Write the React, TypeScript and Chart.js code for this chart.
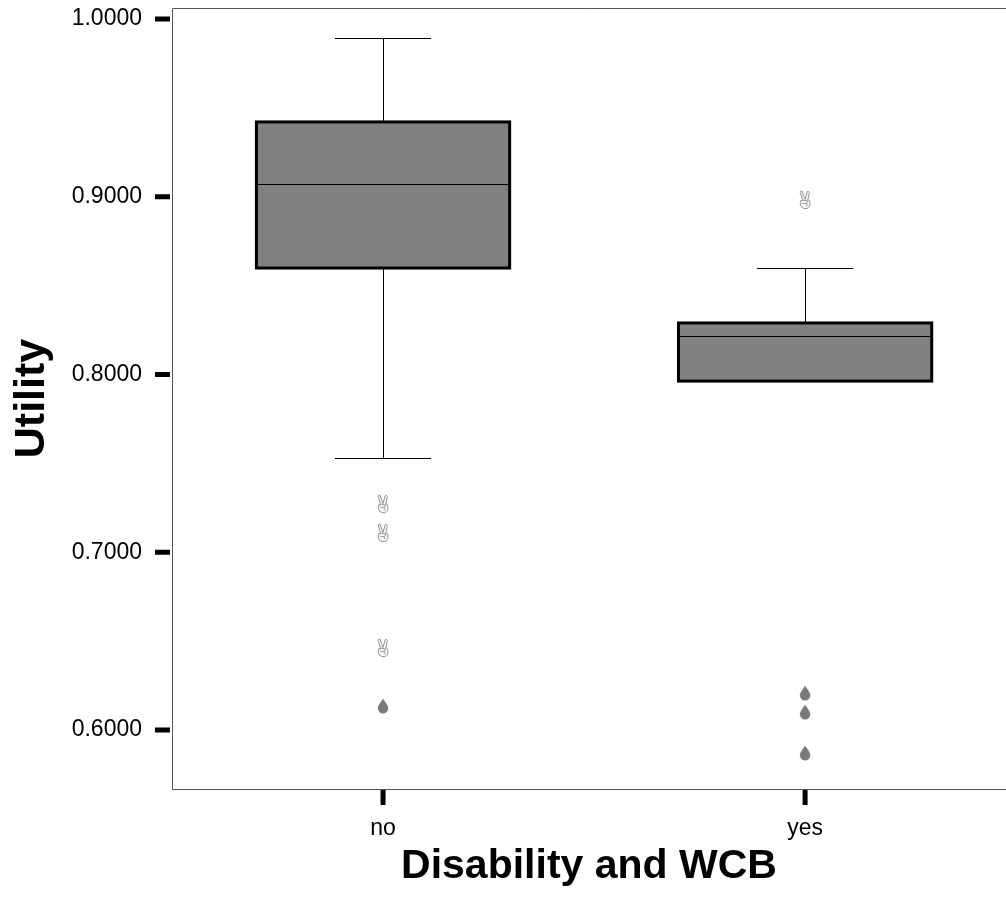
import { useEffect, useRef } from 'react';
import { Chart, registerables } from 'chart.js';

Chart.register(...registerables);

// Groups along the x axis
const categories = ['no', 'yes'];

// Y axis tick values
const yTickValues = [0.6, 0.7, 0.8, 0.9, 1.0];

// Box-plot statistics per group
const whiskerTop = [0.9893, 0.8599];
const upperQuartile = [0.9421, 0.829];
const medians = [0.9072, 0.8217];
const lowerQuartile = [0.8599, 0.7963];
const whiskerBottom = [0.753, 0.7963];

// Outlying cases per group
const handOutliersNo = [0.7271, 0.7108, 0.6461];
const handOutliersYes = [0.8982];
const dropOutliersNo = [0.6135];
const dropOutliersYes = [0.6208, 0.6101, 0.5871];

const FONT = "'Liberation Sans', Arial, Helvetica, sans-serif";
const BOX_HALF = 0.3;
const CAP_HALF = 0.114;

function makeDropMarker(): HTMLCanvasElement {
  const c = document.createElement('canvas');
  c.width = 12;
  c.height = 16;
  const ctx = c.getContext('2d')!;
  ctx.fillStyle = '#7a7a7a';
  ctx.beginPath();
  ctx.moveTo(6, 0.5);
  ctx.bezierCurveTo(7.5, 3.5, 11.2, 7, 11.2, 10.2);
  ctx.arc(6, 10.2, 5.2, 0, Math.PI, false);
  ctx.bezierCurveTo(0.8, 7, 4.5, 3.5, 6, 0.5);
  ctx.closePath();
  ctx.fill();
  return c;
}

// small "victory hand" outline marker
function makeHandMarker(): HTMLCanvasElement {
  const c = document.createElement('canvas');
  c.width = 14;
  c.height = 20;
  const ctx = c.getContext('2d')!;
  ctx.strokeStyle = '#8c8c8c';
  ctx.lineWidth = 1;
  ctx.lineJoin = 'round';
  ctx.lineCap = 'round';
  // index finger
  ctx.beginPath();
  ctx.moveTo(4.5, 10);
  ctx.lineTo(2.2, 2.2);
  ctx.quadraticCurveTo(2.6, 0.6, 4, 1.2);
  ctx.lineTo(6.8, 9);
  ctx.stroke();
  // middle finger
  ctx.beginPath();
  ctx.moveTo(7.2, 9);
  ctx.lineTo(9.2, 1.6);
  ctx.quadraticCurveTo(10.8, 0.8, 11.3, 2.4);
  ctx.lineTo(9.8, 10);
  ctx.stroke();
  // fist
  ctx.beginPath();
  ctx.moveTo(3, 10.5);
  ctx.quadraticCurveTo(1.5, 12, 2.5, 15);
  ctx.quadraticCurveTo(3.5, 18.6, 7, 18.6);
  ctx.quadraticCurveTo(11.5, 18.6, 11.8, 14.5);
  ctx.lineTo(11.8, 11.5);
  ctx.quadraticCurveTo(11.5, 9.6, 9.8, 10);
  ctx.stroke();
  // folded fingers / thumb
  ctx.beginPath();
  ctx.moveTo(3, 10.5);
  ctx.quadraticCurveTo(5.5, 9.5, 9, 11);
  ctx.quadraticCurveTo(10.5, 12.5, 8, 13.5);
  ctx.quadraticCurveTo(5.5, 14, 4, 13);
  ctx.moveTo(8, 13.5);
  ctx.quadraticCurveTo(10.5, 14.5, 8.5, 16);
  ctx.stroke();
  return c;
}

const boxPlotPlugin = {
  id: 'boxPlot',
  beforeDatasetsDraw(chart: any) {
    const { ctx } = chart;
    const xs = chart.scales.x;
    const ys = chart.scales.y;
    ctx.save();
    categories.forEach((_, i) => {
      const xc = xs.getPixelForValue(i);
      const xl = xs.getPixelForValue(i - BOX_HALF);
      const xr = xs.getPixelForValue(i + BOX_HALF);
      const cl = xs.getPixelForValue(i - CAP_HALF);
      const cr = xs.getPixelForValue(i + CAP_HALF);
      const yTop = ys.getPixelForValue(whiskerTop[i]);
      const yQ3 = ys.getPixelForValue(upperQuartile[i]);
      const yMed = ys.getPixelForValue(medians[i]);
      const yQ1 = ys.getPixelForValue(lowerQuartile[i]);
      const yBot = ys.getPixelForValue(whiskerBottom[i]);

      // whiskers and caps
      ctx.strokeStyle = '#000';
      ctx.lineWidth = 1;
      ctx.beginPath();
      ctx.moveTo(Math.round(xc) + 0.5, yTop);
      ctx.lineTo(Math.round(xc) + 0.5, yQ3);
      ctx.moveTo(Math.round(xc) + 0.5, yQ1);
      ctx.lineTo(Math.round(xc) + 0.5, yBot);
      ctx.moveTo(cl, Math.round(yTop) + 0.5);
      ctx.lineTo(cr, Math.round(yTop) + 0.5);
      if (yBot - yQ1 > 1) {
        ctx.moveTo(cl, Math.round(yBot) + 0.5);
        ctx.lineTo(cr, Math.round(yBot) + 0.5);
      }
      ctx.stroke();

      // box
      ctx.fillStyle = '#808080';
      ctx.fillRect(xl, yQ3, xr - xl, yQ1 - yQ3);
      ctx.lineWidth = 3;
      ctx.strokeRect(xl, yQ3, xr - xl, yQ1 - yQ3);

      // median
      ctx.lineWidth = 1;
      ctx.beginPath();
      ctx.moveTo(xl, Math.round(yMed) + 0.5);
      ctx.lineTo(xr, Math.round(yMed) + 0.5);
      ctx.stroke();
    });
    ctx.restore();
  },
  afterDraw(chart: any) {
    const { ctx, chartArea } = chart;
    const xs = chart.scales.x;
    const ys = chart.scales.y;
    ctx.save();
    // frame
    ctx.strokeStyle = '#555';
    ctx.lineWidth = 1;
    ctx.beginPath();
    ctx.moveTo(chartArea.right, Math.round(chartArea.top) + 0.5);
    ctx.lineTo(Math.round(chartArea.left) + 0.5, Math.round(chartArea.top) + 0.5);
    ctx.lineTo(Math.round(chartArea.left) + 0.5, Math.round(chartArea.bottom) + 0.5);
    ctx.lineTo(chartArea.right, Math.round(chartArea.bottom) + 0.5);
    ctx.stroke();
    // thick tick marks
    ctx.strokeStyle = '#000';
    ctx.lineWidth = 5;
    ctx.beginPath();
    yTickValues.forEach((v) => {
      const y = ys.getPixelForValue(v);
      ctx.moveTo(chartArea.left - 17, y);
      ctx.lineTo(chartArea.left - 2, y);
    });
    categories.forEach((_, i) => {
      const x = xs.getPixelForValue(i);
      ctx.moveTo(x, chartArea.bottom + 1);
      ctx.lineTo(x, chartArea.bottom + 16);
    });
    ctx.stroke();
    ctx.restore();
  },
};

export default function App() {
  const canvasRef = useRef<HTMLCanvasElement | null>(null);

  useEffect(() => {
    if (!canvasRef.current) return;
    const hand = makeHandMarker();
    const drop = makeDropMarker();
    const pts = (vals: number[], i: number) => vals.map((v) => ({ x: i, y: v }));

    const chart = new Chart(canvasRef.current, {
      type: 'scatter',
      data: {
        datasets: [
          { data: pts(handOutliersNo, 0), pointStyle: hand as any, radius: 9 },
          { data: pts(handOutliersYes, 1), pointStyle: hand as any, radius: 9 },
          { data: pts(dropOutliersNo, 0), pointStyle: drop as any, radius: 7 },
          { data: pts(dropOutliersYes, 1), pointStyle: drop as any, radius: 7 },
        ],
      },
      options: {
        responsive: false,
        animation: false,
        layout: { autoPadding: false, padding: { top: 8, left: 0, right: 0, bottom: 0 } },
        plugins: {
          legend: { display: false },
          tooltip: { enabled: false },
        },
        scales: {
          x: {
            type: 'linear',
            min: -0.5,
            max: 1.476,
            afterBuildTicks: (s: any) => {
              s.ticks = categories.map((_, i) => ({ value: i }));
            },
            afterFit: (s: any) => {
              s.height = 129;
              s.paddingLeft = 0;
              s.paddingRight = 0;
            },
            grid: { display: false, drawTicks: false },
            border: { display: false },
            ticks: {
              callback: (v: any) => categories[v] ?? '',
              font: { family: FONT, size: 23 },
              color: '#000',
              padding: 26,
              autoSkip: false,
              maxRotation: 0,
            },
            title: {
              display: true,
              text: 'Disability and WCB',
              font: { family: FONT, size: 41, weight: 'bold' },
              color: '#000',
              padding: { top: 0, bottom: 27 },
            },
          },
          y: {
            type: 'linear',
            min: 0.5668,
            max: 1.0062,
            afterBuildTicks: (s: any) => {
              s.ticks = yTickValues.map((v) => ({ value: v }));
            },
            afterFit: (s: any) => {
              s.width = 172;
              s.paddingTop = 0;
              s.paddingBottom = 0;
            },
            grid: { display: false, drawTicks: false },
            border: { display: false },
            ticks: {
              callback: (v: any) => Number(v).toFixed(4),
              font: { family: FONT, size: 23 },
              color: '#000',
              padding: 30,
            },
            title: {
              display: true,
              text: 'Utility',
              font: { family: FONT, size: 43, weight: 'bold' },
              color: '#000',
              padding: { top: 6, bottom: 0 },
            },
          },
        },
      },
      plugins: [boxPlotPlugin],
    });
    return () => chart.destroy();
  }, []);

  return (
    <div style={{ position: 'fixed', left: 0, top: 0, width: 1006, height: 918, background: '#fff' }}>
      <canvas ref={canvasRef} width={1006} height={918} style={{ display: 'block' }} />
    </div>
  );
}
